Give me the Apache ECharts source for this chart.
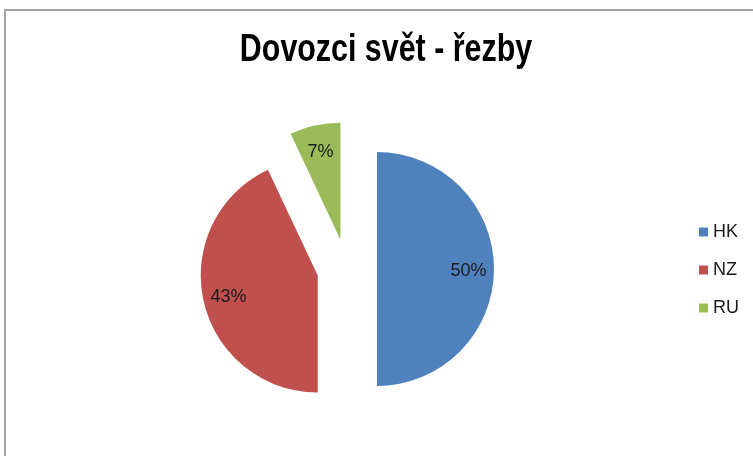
<!DOCTYPE html>
<html>
<head>
<meta charset="utf-8">
<script src="https://cdn.jsdelivr.net/npm/echarts@6/dist/echarts.min.js"></script>
<style>
  html, body { margin: 0; padding: 0; background: #fff; }
  #graph { width: 753px; height: 456px; }
</style>
</head>
<body>
<div id="graph"></div>
<script>
var titleText = 'Dovozci svět - řezby';
var categories = ['HK', 'NZ', 'RU'];
var values = [50, 43, 7];
var colors = ['#4F81BD', '#C0504D', '#9BBB59'];

var chart = echarts.init(document.getElementById('graph'));

var pieData = categories.map(function (name, i) {
    return { name: name, value: values[i], selected: true, itemStyle: { color: colors[i] } };
});

var labelData = categories.map(function (name, i) {
    return { name: name, value: values[i], selected: true };
});

var option = {
    animation: false,
    legend: {
        orient: 'vertical',
        left: 694,
        top: 218,
        icon: 'rect',
        itemWidth: 9,
        itemHeight: 9,
        itemGap: 20,
        data: categories,
        textStyle: {
            fontFamily: "'Liberation Sans', sans-serif",
            fontSize: 18,
            color: '#1a1a1a'
        }
    },
    graphic: [{
        type: 'rect',
        shape: { x: 5, y: 10, width: 800, height: 500 },
        style: { fill: 'none', stroke: '#a3a3a3', lineWidth: 2 },
        silent: true
    }, {
        // title: narrow bold face is not installed, so squeeze a normal bold one
        type: 'text',
        x: 386,
        y: 51,
        scaleX: 0.8,
        silent: true,
        style: {
            text: titleText,
            font: "bold 38px 'Liberation Sans', sans-serif",
            fill: '#000',
            align: 'center',
            verticalAlign: 'middle'
        }
    }],
    series: [{
        // the visible slices, all pulled out
        name: 'slices',
        type: 'pie',
        center: [347, 269],
        radius: 117,
        startAngle: 90,
        clockwise: true,
        selectedMode: 'multiple',
        selectedOffset: 30,
        label: { show: false },
        labelLine: { show: false },
        emphasis: { disabled: true },
        data: pieData
    }, {
        // transparent ring, only used to put the percent labels at ~3/4 radius
        name: 'labels',
        type: 'pie',
        center: [347, 271],
        radius: [60, 117],
        startAngle: 90,
        clockwise: true,
        selectedMode: 'multiple',
        selectedOffset: 30,
        silent: true,
        itemStyle: { color: 'rgba(0,0,0,0)' },
        label: {
            show: true,
            position: 'inside',
            formatter: '{d}%',
            fontFamily: "'Liberation Sans', sans-serif",
            fontSize: 18,
            color: '#1a1a1a'
        },
        labelLine: { show: false },
        emphasis: { disabled: true },
        data: labelData
    }]
};

chart.setOption(option);
</script>
</body>
</html>
